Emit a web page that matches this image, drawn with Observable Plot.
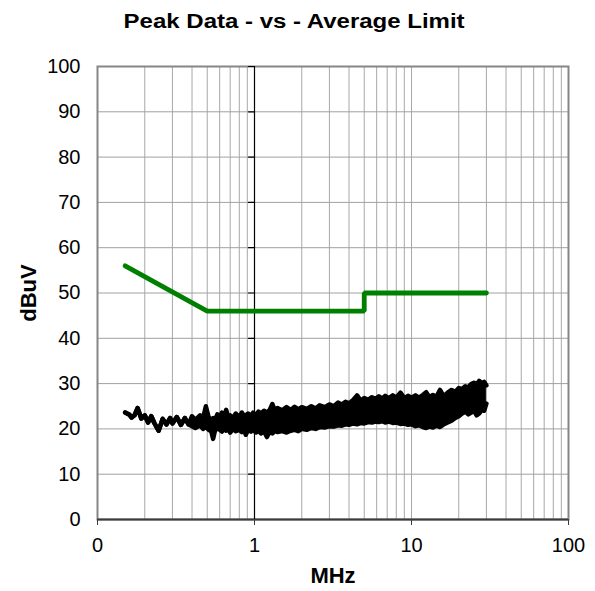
<!DOCTYPE html>
<html><head><meta charset="utf-8">
<script src="https://cdn.jsdelivr.net/npm/d3@7"></script>
<script src="https://cdn.jsdelivr.net/npm/@observablehq/plot@0.6"></script>
<style>
body{margin:0;background:#fff;font-family:"Liberation Sans",Arial,sans-serif;}
#title{width:589px;height:40px;line-height:42px;text-align:center;font-weight:bold;font-size:20px;color:#000;}
#title span{display:inline-block;transform:scaleX(1.2);}
#chart svg{display:block;}
</style></head><body>
<div id="title"><span>Peak Data - vs - Average Limit</span></div>
<div id="chart"></div>
<script>
// Average limit line
const limitFreq  = [0.15, 0.5, 5, 5, 30];
const limitLevel = [56, 46, 46, 50, 50];

// Peak data (noisy band): frequency, upper edge, lower edge (dBuV)
const peakFreq = [
 0.15,0.16,0.165,0.172,0.18,0.19,0.20,0.21,0.22,0.23,
 0.245,0.26,0.275,0.29,0.30,0.32,0.34,0.36,0.38,
 0.40,0.42,0.45,0.47,0.49,0.51,0.53,0.545,0.56,0.58,
 0.60,0.62,0.64,0.66,0.68,0.70,0.73,0.76,0.80,0.83,
 0.86,0.88,0.91,0.95,0.98,1.02,1.06,1.1,1.15,1.2,
 1.25,1.3,1.35,1.4,1.5,1.6,1.7,1.8,1.9,2.0,
 2.15,2.3,2.45,2.6,2.8,3.0,3.2,3.4,3.6,3.8,
 4.0,4.25,4.5,4.75,5.0,5.3,5.6,5.9,6.2,6.5,
 6.8,7.2,7.6,8.0,8.5,9.0,9.5,10,10.6,11.2,
 11.8,12.4,13,13.7,14.4,15.2,16,17,18,19,
 20,21,22,23,24,25,26,27,28,29,30];
const peakHigh = [
 23.6,23.1,22.5,23.0,24.6,22.3,23.0,21.4,22.8,21.3,
 19.6,22.2,21.0,22.4,21.2,22.6,20.9,22.4,21.0,
 22.8,22.0,23.0,22.3,25.0,22.6,22.0,22.4,22.0,23.2,
 22.2,23.6,22.4,24.2,22.6,23.0,22.4,23.4,22.6,23.6,
 22.8,23.0,23.4,22.8,23.6,23.0,23.8,23.4,24.0,23.6,
 24.2,25.5,24.0,24.6,24.1,24.8,24.2,24.9,24.3,24.8,
 24.4,25.0,24.5,25.2,24.8,25.4,25.0,25.8,25.4,26.0,
 25.6,26.4,27.4,26.2,26.8,26.4,27.0,26.6,27.2,26.7,
 27.3,26.8,27.4,26.9,28.0,26.8,27.3,26.9,27.4,26.9,
 27.5,28.1,27.0,27.5,27.1,28.6,27.2,28.0,28.6,28.2,
 29.0,28.8,29.4,29.2,29.9,30.2,29.8,30.6,30.0,30.4,29.6];
const peakLow = [
 23.6,23.1,22.5,23.0,24.6,22.3,23.0,21.4,22.8,21.3,
 19.6,22.2,21.0,22.4,21.2,22.6,20.9,22.4,21.0,
 20.6,20.2,20.8,20.0,20.5,19.8,19.5,17.8,19.6,20.2,
 19.8,19.4,20.0,19.6,19.9,19.2,20.0,19.5,19.8,19.3,
 19.7,18.7,19.8,19.4,19.8,19.2,19.6,19.0,19.5,18.2,
 19.4,19.0,19.6,19.3,19.5,19.2,19.6,19.8,19.5,20.0,
 19.8,20.2,20.0,20.4,20.3,20.6,20.5,20.8,20.7,21.0,
 20.9,21.2,21.0,21.3,21.2,21.5,21.4,21.6,21.5,21.7,
 21.4,21.6,21.3,21.4,21.1,21.2,20.9,21.0,20.6,20.8,
 20.4,20.2,20.5,20.3,20.7,20.4,21.0,21.4,21.8,22.4,
 22.8,23.4,23.8,23.2,23.6,24.0,23.0,23.4,24.2,24.0,25.6];

// Axes / grid
const xTicks = [0.1, 1, 10, 100];
const xTickLabels = ["0", "1", "10", "100"];
const xGrid = [0.1,0.2,0.3,0.4,0.5,0.6,0.7,0.8,0.9,
               1,2,3,4,5,6,7,8,9,
               10,20,30,40,50,60,70,80,90,100];
const yTicks = [0,10,20,30,40,50,60,70,80,90,100];

const limit = limitFreq.map((f, i) => ({f, v: limitLevel[i]}));
const peak = peakFreq.map((f, i) => ({f, hi: peakHigh[i], lo: peakLow[i]}));

const tickShape = {draw(ctx, l) { ctx.moveTo(0, 0); ctx.lineTo(0, -l); }};

const chart = Plot.plot({
  width: 595,
  height: 551,
  marginLeft: 97,
  marginRight: 27,
  marginTop: 26,
  marginBottom: 72,
  style: {fontFamily: '"Liberation Sans", Arial, sans-serif', fontSize: "20px", color: "#000", background: "#fff"},
  x: {type: "log", domain: [0.1, 100]},
  y: {domain: [0, 100]},
  marks: [
    Plot.ruleX(xGrid, {stroke: "#a8a8a8", strokeWidth: 1}),
    Plot.ruleY(yTicks, {stroke: "#a0a0a0", strokeWidth: 1}),
    Plot.frame({stroke: "#868686", strokeWidth: 2}),
    Plot.ruleY([0], {stroke: "#3c3c3c", strokeWidth: 2}),
    Plot.ruleX([1], {stroke: "#000", strokeWidth: 1.2}),
    Plot.vector(yTicks.slice(1), {x: () => 1, y: d => d, length: 6, rotate: 270, anchor: "start", shape: tickShape, stroke: "#000", strokeWidth: 1.2}),
    Plot.axisX({ticks: xTicks, tickFormat: d => xTickLabels[xTicks.indexOf(d)], tickSize: 6, tickPadding: 12, fontSize: 20, label: null, stroke: "#3c3c3c"}),
    Plot.axisY({ticks: yTicks, tickSize: 0, tickPadding: 17, fontSize: 20, label: null}),
    Plot.areaY(peak, {x: "f", y1: "lo", y2: "hi", fill: "#000", curve: "linear"}),
    Plot.line(peak, {x: "f", y: "hi", stroke: "#000", strokeWidth: 4.5, strokeLinejoin: "round", strokeLinecap: "round"}),
    Plot.line(peak, {x: "f", y: "lo", stroke: "#000", strokeWidth: 4.5, strokeLinejoin: "round", strokeLinecap: "round"}),
    Plot.line(limit, {x: "f", y: "v", stroke: "#008000", strokeWidth: 4.8, strokeLinejoin: "miter"}),
    Plot.text(["MHz"], {frameAnchor: "bottom", dy: 63, fontWeight: "bold", fontSize: 22, fill: "#000"}),
    Plot.text(["dBuV"], {frameAnchor: "left", dx: -69, rotate: -90, textAnchor: "middle", fontWeight: "bold", fontSize: 22, fill: "#000"})
  ]
});
document.getElementById("chart").appendChild(chart);
</script>
</body></html>
